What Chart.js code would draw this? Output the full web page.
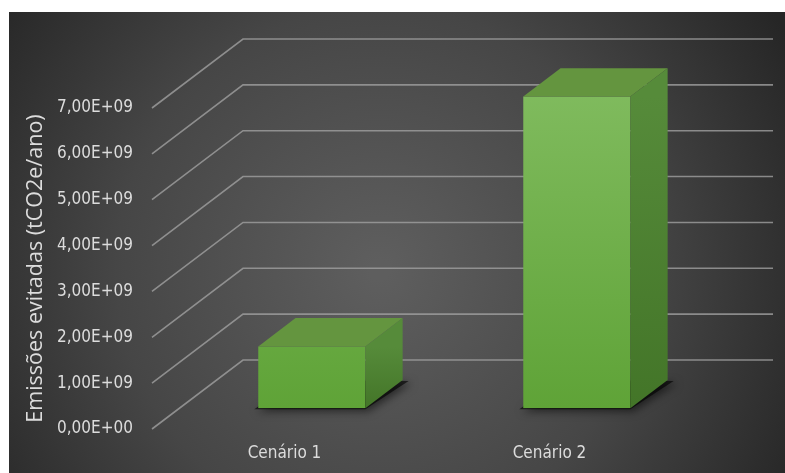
<!DOCTYPE html>
<html>
<head>
<meta charset="utf-8">
<script src="https://cdn.jsdelivr.net/npm/chart.js@4"></script>
<style>
  body { margin: 0; background: #fff; }
  #wrap { width: 785px; height: 473px; }
</style>
</head>
<body>
<div id="wrap"><canvas id="chart" width="785" height="473"></canvas></div>
<script>
// chart data
const categories = ['Cenário 1', 'Cenário 2'];
const emissions = [1.35e9, 6.8e9];
const yTicks = [0, 1e9, 2e9, 3e9, 4e9, 5e9, 6e9, 7e9];

// 3D look: full depth of the floor and where the bars sit in it
const DEPTH = { dx: 91, dy: -69 };
const BAR_FRONT = 0.30;
const BAR_DEPTH = 0.41;

function sciLabel(v) {
    if (v === 0) return '0,00E+00';
    const exp = Math.floor(Math.log10(v));
    const mant = (v / Math.pow(10, exp)).toFixed(2).replace('.', ',');
    return mant + 'E+' + String(exp).padStart(2, '0');
}

const backgroundPlugin = {
    id: 'panel',
    beforeDraw(chart) {
        const ctx = chart.ctx;
        ctx.save();
        ctx.fillStyle = '#ffffff';
        ctx.fillRect(0, 0, chart.width, chart.height);
        const g = ctx.createRadialGradient(380, 270, 10, 380, 270, 470);
        g.addColorStop(0, '#5e5e5e');
        g.addColorStop(0.55, '#464646');
        g.addColorStop(1, '#262626');
        ctx.fillStyle = g;
        ctx.fillRect(9, 12, chart.width - 9, chart.height - 12);
        ctx.restore();
    }
};

const box3dPlugin = {
    id: 'box3d',
    beforeDatasetsDraw(chart) {
        const ctx = chart.ctx;
        const area = chart.chartArea;
        const y = chart.scales.y;

        // slanted side wall + back wall grid lines
        ctx.save();
        ctx.strokeStyle = 'rgba(160,160,160,0.8)';
        ctx.lineWidth = 1.6;
        yTicks.forEach(v => {
            const py = y.getPixelForValue(v);
            ctx.beginPath();
            ctx.moveTo(area.left, py);
            ctx.lineTo(area.left + DEPTH.dx, py + DEPTH.dy);
            ctx.lineTo(area.right + DEPTH.dx, py + DEPTH.dy);
            ctx.stroke();
        });
        ctx.restore();

        // move bars to their place in the depth
        ctx.save();
        ctx.translate(DEPTH.dx * BAR_FRONT, DEPTH.dy * BAR_FRONT);

        const ddx = DEPTH.dx * BAR_DEPTH, ddy = DEPTH.dy * BAR_DEPTH;
        chart.getDatasetMeta(0).data.forEach(bar => {
            const l = bar.x - bar.width / 2, r = bar.x + bar.width / 2;
            const b = bar.base;
            ctx.save();
            ctx.shadowColor = 'rgba(0,0,0,0.9)';
            ctx.shadowBlur = 8;
            ctx.shadowOffsetX = 3;
            ctx.shadowOffsetY = 2;
            ctx.fillStyle = 'rgba(0,0,0,0.6)';
            ctx.beginPath();
            ctx.moveTo(l - 4, b + 1);
            ctx.lineTo(r, b + 1);
            ctx.lineTo(r + ddx + 6, b + ddy + 1);
            ctx.lineTo(l + ddx, b + ddy);
            ctx.closePath();
            ctx.fill();
            ctx.restore();
        });
    },
    afterDatasetsDraw(chart) {
        const ctx = chart.ctx;
        const ddx = DEPTH.dx * BAR_DEPTH, ddy = DEPTH.dy * BAR_DEPTH;
        chart.getDatasetMeta(0).data.forEach(bar => {
            const l = bar.x - bar.width / 2, r = bar.x + bar.width / 2;
            const t = bar.y, b = bar.base;

            // top face
            ctx.fillStyle = '#64953f';
            ctx.beginPath();
            ctx.moveTo(l, t);
            ctx.lineTo(l + ddx, t + ddy);
            ctx.lineTo(r + ddx, t + ddy);
            ctx.lineTo(r, t);
            ctx.closePath();
            ctx.fill();

            // right side face
            const sg = ctx.createLinearGradient(0, t, 0, b);
            sg.addColorStop(0, '#568b3a');
            sg.addColorStop(1, '#437528');
            ctx.fillStyle = sg;
            ctx.beginPath();
            ctx.moveTo(r, t);
            ctx.lineTo(r + ddx, t + ddy);
            ctx.lineTo(r + ddx, b + ddy);
            ctx.lineTo(r, b);
            ctx.closePath();
            ctx.fill();
        });
        ctx.restore();
    }
};

const ctx = document.getElementById('chart').getContext('2d');
new Chart(ctx, {
    type: 'bar',
    data: {
        labels: categories,
        datasets: [{
            data: emissions,
            backgroundColor: c => {
                const area = c.chart.chartArea;
                if (!area) return '#6eb048';
                const g = c.chart.ctx.createLinearGradient(0, area.top, 0, area.bottom);
                g.addColorStop(0, '#80bb5e');
                g.addColorStop(1, '#5fa337');
                return g;
            },
            borderWidth: 0,
            categoryPercentage: 1,
            barPercentage: 0.404
        }]
    },
    options: {
        responsive: false,
        animation: false,
        layout: { padding: { top: 108, right: 103, bottom: 0, left: 0 } },
        plugins: {
            legend: { display: false },
            tooltip: { enabled: false }
        },
        scales: {
            x: {
                grid: { display: false, drawTicks: false },
                border: { display: false },
                ticks: {
                    color: '#dcdcdc',
                    padding: 14,
                    maxRotation: 0,
                    font: { family: '"DejaVu Sans Condensed", sans-serif', size: 17 }
                },
                afterFit(scale) { scale.height = 44; }
            },
            y: {
                min: 0,
                max: 7e9,
                grid: { display: false, drawTicks: false },
                border: { display: false },
                afterBuildTicks(scale) { scale.ticks = yTicks.map(v => ({ value: v })); },
                ticks: {
                    color: '#dcdcdc',
                    padding: 19,
                    callback: v => sciLabel(v),
                    font: { family: '"DejaVu Sans Condensed", sans-serif', size: 17 }
                },
                title: {
                    display: true,
                    text: 'Emissões evitadas (tCO2e/ano)',
                    color: '#dcdcdc',
                    padding: { top: 23 },
                    font: { family: '"Open Sans", sans-serif', size: 21.5 }
                },
                afterFit(scale) { scale.width = 152; }
            }
        }
    },
    plugins: [backgroundPlugin, box3dPlugin]
});
</script>
</body>
</html>
